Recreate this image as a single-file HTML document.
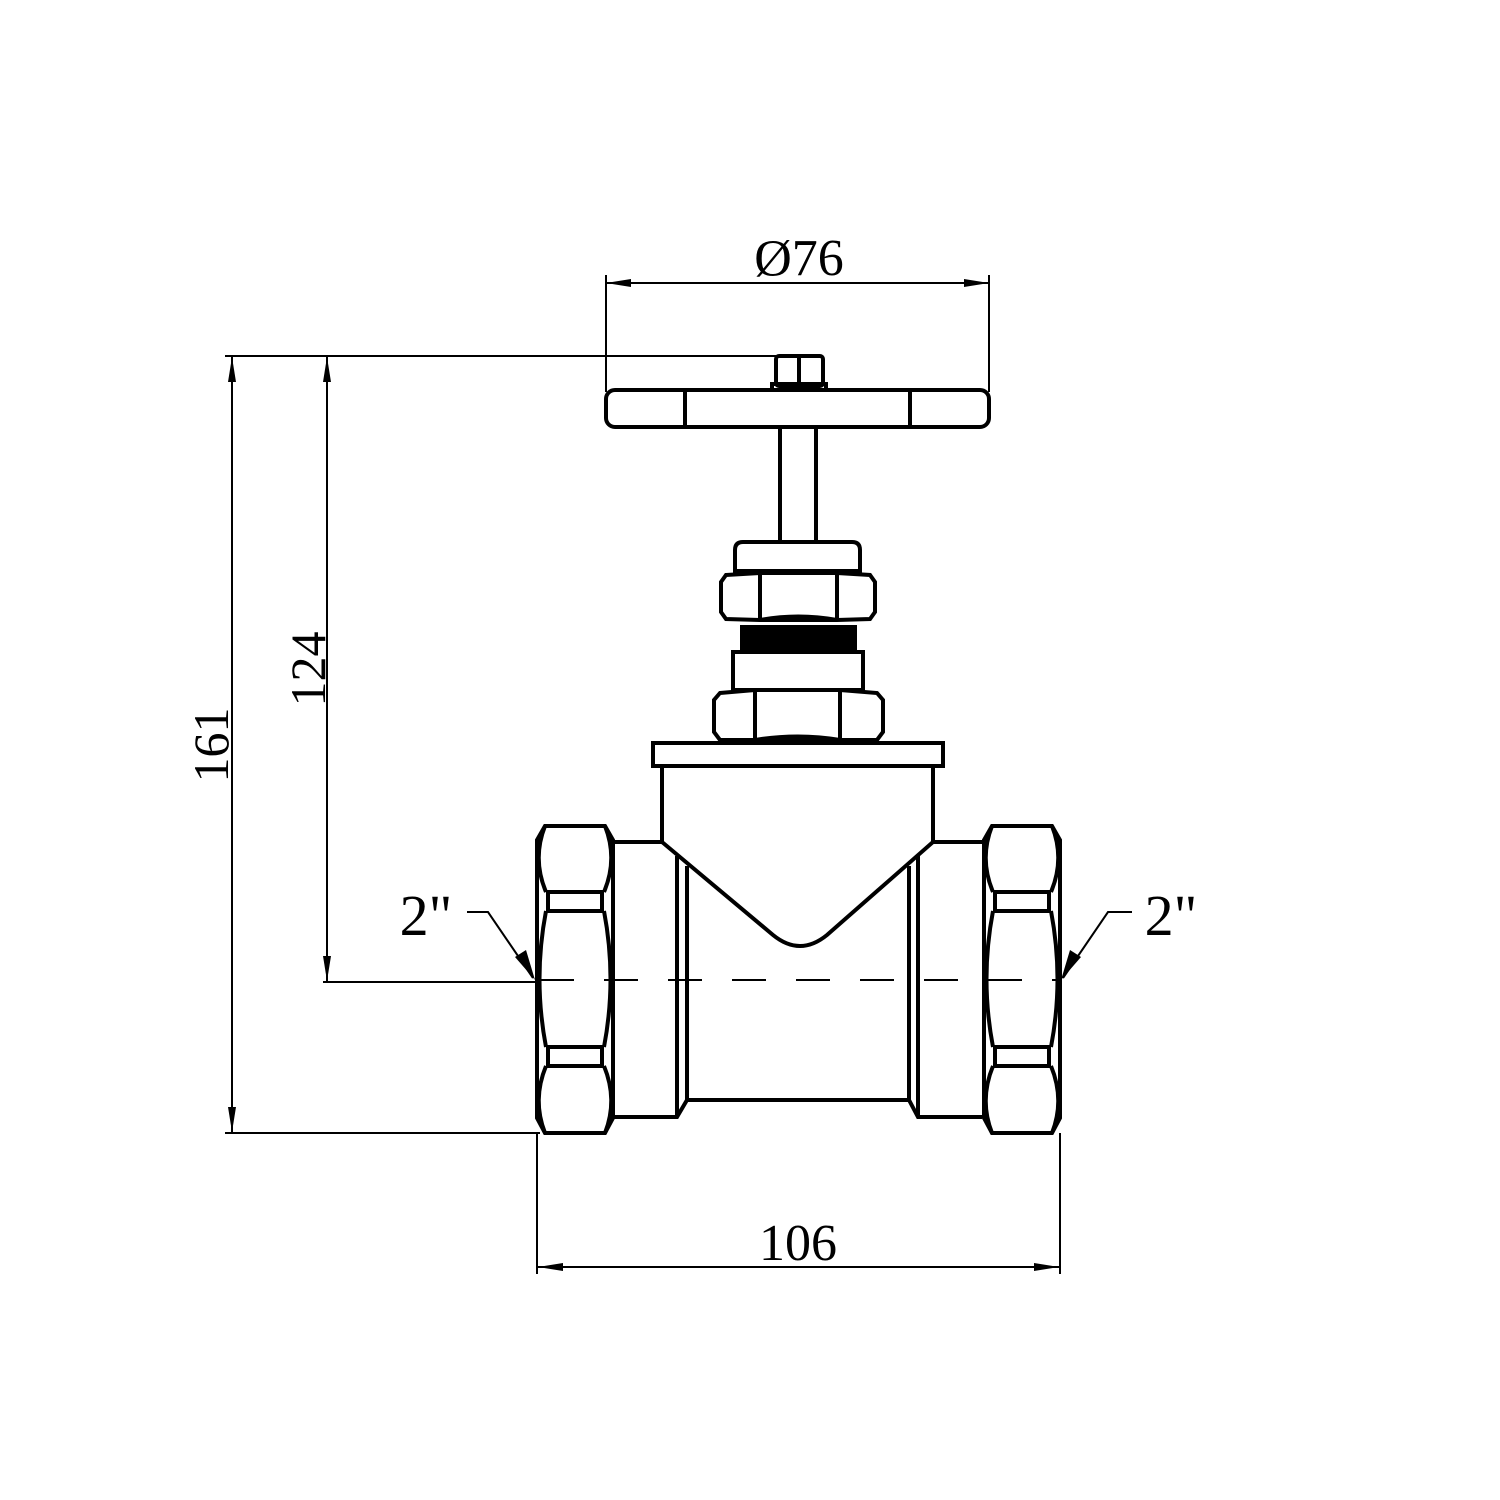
<!DOCTYPE html>
<html><head><meta charset="utf-8"><style>
html,body{margin:0;padding:0;background:#fff;}
svg{display:block;}
text{font-family:"Liberation Serif",serif;fill:#000;}
</style></head><body>
<svg width="1500" height="1500" viewBox="0 0 1500 1500" xmlns="http://www.w3.org/2000/svg">
<defs>
<g id="hex" fill="none" stroke="#000" stroke-width="4">
  <path d="M545,826 L605,826 L613,840 L613,1118 L605,1133 L545,1133 L537,1118 L537,840 Z"/>
  <path d="M545,826 Q532,859 546,892 M605,826 Q618,859 604,892"/>
  <path d="M546,892 L604,892 M546,911 L604,911 M548,892 L548,911 M602,892 L602,911"/>
  <path d="M546,911 Q533,979 546,1047 M604,911 Q617,979 604,1047"/>
  <path d="M546,1047 L604,1047 M546,1066 L604,1066 M548,1047 L548,1066 M602,1047 L602,1066"/>
  <path d="M546,1066 Q532,1100 545,1133 M604,1066 Q618,1100 605,1133"/>
</g>
</defs>
<g stroke="#000" stroke-width="2" fill="none">
  <line x1="606" y1="275" x2="606" y2="392"/>
  <line x1="989" y1="275" x2="989" y2="392"/>
  <line x1="606" y1="283" x2="989" y2="283"/>
  <line x1="225" y1="356" x2="782" y2="356"/>
  <line x1="232" y1="356" x2="232" y2="1133"/>
  <line x1="327" y1="356" x2="327" y2="982"/>
  <line x1="323" y1="982" x2="540" y2="982"/>
  <line x1="225" y1="1133" x2="540" y2="1133"/>
  <line x1="537" y1="1133" x2="537" y2="1274"/>
  <line x1="1060" y1="1133" x2="1060" y2="1274"/>
  <line x1="537" y1="1267" x2="1060" y2="1267"/>
  <polyline points="467,912 488,912 533,978"/>
  <polyline points="1132,912 1108,912 1063,978"/>
  <line x1="540" y1="980" x2="1060" y2="980" stroke-dasharray="34,30"/>
</g>
<g fill="#000">
  <polygon points="606,283 631,279 631,287"/>
  <polygon points="989,283 964,279 964,287"/>
  <polygon points="232,357 228,382 236,382"/>
  <polygon points="232,1132 228,1107 236,1107"/>
  <polygon points="327,357 323,382 331,382"/>
  <polygon points="327,981 323,956 331,956"/>
  <polygon points="538,1267 563,1263 563,1271"/>
  <polygon points="1059,1267 1034,1263 1034,1271"/>
  <polygon points="535,980 515,957 526,950"/>
  <polygon points="1061,980 1070,950 1081,957"/>
</g>
<text x="799" y="275" font-size="52" text-anchor="middle">Ø76</text>
<text x="798" y="1260" font-size="52" text-anchor="middle">106</text>
<text x="426" y="935" font-size="58" text-anchor="middle">2"</text>
<text x="1171" y="935" font-size="58" text-anchor="middle">2"</text>
<text transform="translate(228,745) rotate(-90)" font-size="50" text-anchor="middle">161</text>
<text transform="translate(325,669) rotate(-90)" font-size="50" text-anchor="middle">124</text>

<g fill="none" stroke="#000" stroke-width="4">
  <rect x="776" y="356" width="47" height="30" rx="3"/>
  <line x1="799" y1="358" x2="799" y2="385"/>
  <rect x="772" y="384" width="54" height="6"/>
  <rect x="606" y="390" width="383" height="37" rx="9"/>
  <line x1="685" y1="390" x2="685" y2="427"/>
  <line x1="910" y1="390" x2="910" y2="427"/>
  <line x1="780" y1="427" x2="780" y2="542"/>
  <line x1="816" y1="427" x2="816" y2="542"/>
  <path d="M735,571 L735,550 Q735,542 743,542 L852,542 Q860,542 860,550 L860,571 Z"/>
  <path d="M726,575 L760,573 L837,573 L870,575 L875,582 L875,612 L870,619 L837,620 L760,620 L726,619 L721,612 L721,582 Z"/>
  <path d="M760,573 L760,620 M837,573 L837,620"/>
  <path d="M760,620 Q798,613 837,620"/>
  <rect x="733" y="652" width="130" height="38"/>
  <path d="M720,693 L755,690 L840,690 L877,693 L883,700 L883,732 L877,740 L840,740 L755,740 L720,740 L714,732 L714,700 Z"/>
  <path d="M755,690 L755,740 M840,690 L840,740"/>
  <path d="M755,740 Q798,733 840,740"/>
  <rect x="653" y="743" width="290" height="23"/>
  <path d="M662,766 L662,842 L773,935 Q800,957 827,935 L933,842 L933,766"/>
  <path d="M613,842 L662,842 M933,842 L982,842"/>
  <path d="M613,1117 L677,1117 L687,1100 L909,1100 L918,1117 L982,1117"/>
  <path d="M677,856 L677,1117 M687,866 L687,1100 M909,866 L909,1100 M918,856 L918,1117"/>
</g>
<rect x="740" y="625" width="117" height="25" fill="#000"/>
<use href="#hex"/>
<use href="#hex" transform="translate(1597,0) scale(-1,1)"/>
</svg>
</body></html>
